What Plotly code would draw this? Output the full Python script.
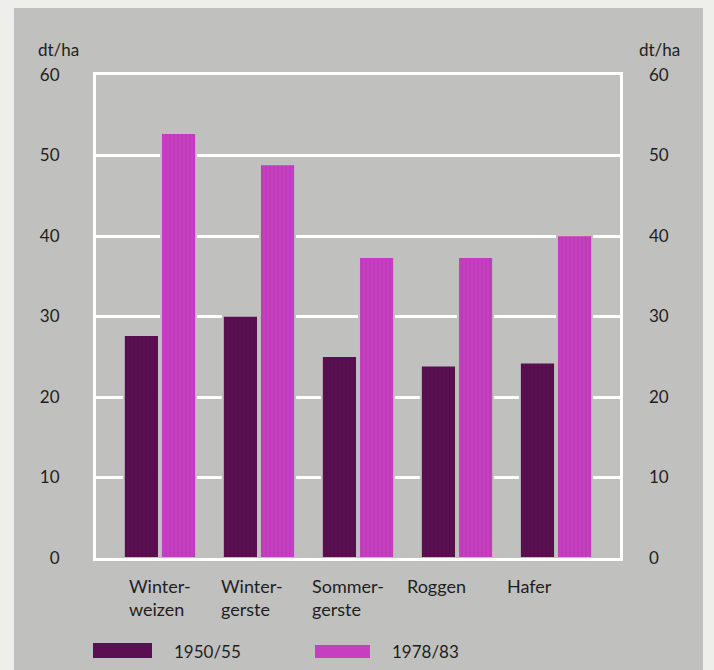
import plotly.graph_objects as go

# Getreideerträge in dt/ha
categories = ["Winterweizen", "Wintergerste", "Sommergerste", "Roggen", "Hafer"]
label_lines = ["Winter-<br>weizen", "Winter-<br>gerste", "Sommer-<br>gerste", "Roggen", "Hafer"]
series_names = ["1950/55", "1978/83"]
yield_1950 = [27.7, 30.1, 25.1, 23.9, 24.3]
yield_1978 = [52.8, 48.9, 37.4, 37.4, 40.1]
y_ticks = [0, 10, 20, 30, 40, 50, 60]

W, H = 714, 670
M_L, M_R, M_T, M_B = 96, 94, 75, 112
PW, PH = W - M_L - M_R, H - M_T - M_B

BG = "#c0c0be"
PAPER = "#eeeeea"
DARK = "#5a1050"
MAGENTA = "#c63fc0"
TXT = "#1e1e1e"
FONT = "Lato"


def px_x(px):
    return (px - M_L) / PW


def px_y(py):
    return (H - M_B - py) / PH


fig = go.Figure()
fig.add_trace(go.Bar(
    x=categories, y=yield_1950, name=series_names[0],
    marker=dict(color=DARK, line=dict(color=BG, width=2),
                pattern=dict(shape="|", fgcolor="#480a40", bgcolor=DARK,
                             size=4, solidity=0.25)),
    showlegend=False,
))
fig.add_trace(go.Bar(
    x=categories, y=yield_1978, name=series_names[1],
    marker=dict(color=MAGENTA, line=dict(color=BG, width=2),
                pattern=dict(shape="|", fgcolor="#b02ea8", bgcolor=MAGENTA,
                             size=4, solidity=0.25)),
    showlegend=False,
))
# duplicate axis on the right side
fig.add_trace(go.Scatter(x=categories, y=yield_1978, yaxis="y2", mode="none",
                         showlegend=False, hoverinfo="skip"))

shapes = [
    dict(type="rect", xref="paper", yref="paper", layer="below",
         x0=px_x(14), x1=px_x(703), y0=px_y(H), y1=px_y(8),
         fillcolor=BG, line=dict(width=0)),
    dict(type="rect", xref="paper", yref="paper",
         x0=px_x(93), x1=px_x(152), y0=px_y(658), y1=px_y(643),
         fillcolor=DARK, line=dict(width=0)),
    dict(type="rect", xref="paper", yref="paper",
         x0=px_x(315), x1=px_x(370), y0=px_y(658), y1=px_y(645),
         fillcolor=MAGENTA, line=dict(width=0)),
]

annotations = []
label_shift = [-33, -40, -48, -52, -51]
for cat, txt, dx in zip(categories, label_lines, label_shift):
    annotations.append(dict(
        x=cat, xref="x", y=0, yref="paper", yanchor="top", xanchor="left",
        xshift=dx, yshift=-15, text=txt, align="left", showarrow=False,
        font=dict(family=FONT, size=18, color=TXT)))
for txt, xpx in ((series_names[0], 172), (series_names[1], 390)):
    annotations.append(dict(
        x=px_x(xpx), xref="paper", y=px_y(651), yref="paper",
        xanchor="left", yanchor="middle", text=txt, showarrow=False,
        font=dict(family=FONT, size=17, color=TXT)))
for xpx in (58, 659):
    annotations.append(dict(
        x=px_x(xpx), xref="paper", y=px_y(49), yref="paper",
        xanchor="center", yanchor="middle", text="dt/ha", showarrow=False,
        font=dict(family=FONT, size=17, color=TXT)))

axis_font = dict(family=FONT, size=17, color=TXT)
fig.update_layout(
    width=W, height=H,
    margin=dict(l=M_L, r=M_R, t=M_T, b=M_B),
    paper_bgcolor=PAPER, plot_bgcolor="rgba(0,0,0,0)",
    barmode="group", bargap=0.25, bargroupgap=0.053,
    shapes=shapes, annotations=annotations,
    xaxis=dict(range=[-0.646, 4.646], showticklabels=False, ticks="",
               showgrid=False, zeroline=False,
               showline=True, mirror=True, linecolor="white", linewidth=3),
    yaxis=dict(range=[0, 60], tickvals=y_ticks, ticks="",
               showgrid=True, gridcolor="white", gridwidth=3,
               zeroline=False, showline=True, mirror=True,
               linecolor="white", linewidth=3,
               tickfont=axis_font, ticklabelstandoff=30),
    yaxis2=dict(range=[0, 60], tickvals=y_ticks, ticks="", overlaying="y",
                side="right", showgrid=False, zeroline=False, showline=False,
                tickfont=axis_font, ticklabelstandoff=28),
)

fig.write_html("out.html")
